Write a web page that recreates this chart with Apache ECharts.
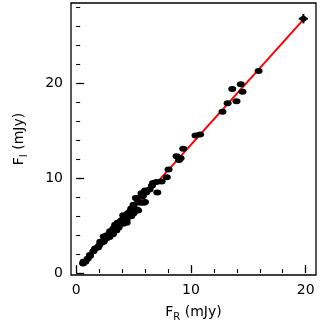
<!DOCTYPE html>
<html>
<head>
<meta charset="utf-8">
<script src="https://cdn.jsdelivr.net/npm/echarts@6/dist/echarts.min.js"></script>
<style>
html,body{margin:0;padding:0;background:#fff;}
#chart{width:326px;height:327px;}
</style>
</head>
<body>
<div id="chart"></div>
<script>
// Data
var fR = [0.6,0.64,0.8,1.0,1.2,1.2,1.5,1.65,1.9,2.0,2.1,2.2,2.4,2.4,2.5,2.67,2.7,2.8,2.9,2.96,3.0,3.1,3.2,3.25,3.3,3.4,3.4,3.5,3.5,3.6,3.7,3.8,3.9,3.97,4.0,4.1,4.1,4.2,4.3,4.4,4.4,4.5,4.6,4.7,4.8,4.8,4.9,5.0,5.0,5.2,5.3,5.3,5.4,5.4,5.6,5.7,5.8,5.9,6.0,6.0,6.1,6.4,6.6,6.7,7.0,7.07,7.45,7.9,8.05,8.75,8.96,9.1,9.33,10.4,10.8,12.75,13.2,13.97,13.6,14.35,14.5,15.9];
var fI = [1.0,1.2,1.2,1.5,1.8,1.9,2.3,2.6,2.7,2.9,3.3,3.2,3.3,3.85,3.6,4.0,3.7,4.0,3.8,4.4,4.2,4.4,4.1,4.7,4.6,4.9,5.1,4.5,5.1,5.3,4.8,5.2,5.5,5.3,5.6,5.2,6.1,5.8,6.0,5.6,5.3,6.3,6.1,6.5,6.0,6.8,6.6,7.2,6.3,7.9,7.9,6.7,7.5,6.6,7.4,8.4,8.1,7.4,8.7,7.5,8.5,8.8,9.2,9.5,9.6,8.5,9.64,10.1,10.9,12.3,11.9,12.1,13.1,14.5,14.6,17.0,17.9,18.1,19.4,19.9,19.1,21.3];
// point with error bars
var errX = [19.8], errY = [26.8], errDx = [0.4], errDy = [0.5];
// fitted line end points
var fitX = [0.6, 19.8];
var fitY = [0.86, 26.7];
// ticks
var xMajor = [0, 10, 20];
var xMinor = [2, 4, 6, 8, 12, 14, 16, 18];
var yMajor = [0, 10, 20];
var yMinor = [2, 4, 6, 8, 12, 14, 16, 18, 22, 24, 26, 28];

var XMIN = -0.45, XMAX = 20.9, YMIN = -0.2, YMAX = 28.45;
var FONT = 'DejaVu Sans';

var pts = fR.map(function (x, i) { return [x, fI[i]]; });
var errPts = errX.map(function (x, i) { return [x, errY[i], errDx[i], errDy[i]]; });
var fitPts = fitX.map(function (x, i) { return [x, fitY[i]]; });

function axisBase(extra) {
  var a = {
    type: 'value', gridIndex: 0,
    axisLine: { show: false },
    splitLine: { show: false },
    axisLabel: { show: false }
  };
  for (var k in extra) a[k] = extra[k];
  return a;
}

var nameRich = {
  a: { fontFamily: FONT, fontSize: 14, color: '#000' },
  s: { fontFamily: FONT, fontSize: 10, color: '#000', verticalAlign: 'bottom', padding: [0, 0, -3, 0] }
};

var chart = echarts.init(document.getElementById('chart'));
chart.setOption({
  animation: false,
  backgroundColor: '#fff',
  grid: {
    left: 71, right: 10, top: 3, bottom: 52,
    outerBoundsMode: 'none', containLabel: false,
    show: true, borderColor: '#000', borderWidth: 1.3, backgroundColor: 'transparent'
  },
  xAxis: [
    axisBase({
      min: XMIN, max: XMAX,
      name: '{a|F}{s|R}{a| (mJy)}',
      nameLocation: 'middle', nameGap: 30,
      nameTextStyle: { rich: nameRich },
      axisTick: { show: true, inside: true, length: 8, customValues: xMajor, lineStyle: { color: '#000', width: 1.3 } },
      axisLabel: { show: true, customValues: xMajor, margin: 8, fontFamily: FONT, fontSize: 14, color: '#000' }
    }),
    axisBase({
      min: XMIN, max: XMAX, position: 'bottom',
      axisTick: { show: true, inside: true, length: 4, customValues: xMinor, lineStyle: { color: '#000', width: 1.1 } }
    })
  ],
  yAxis: [
    axisBase({
      min: YMIN, max: YMAX,
      name: '{a|F}{s|I}{a| (mJy)}',
      nameLocation: 'middle', nameGap: 45, nameRotate: 90,
      nameTextStyle: { rich: nameRich },
      axisTick: { show: true, inside: true, length: 8, customValues: yMajor, lineStyle: { color: '#000', width: 1.3 } },
      axisLabel: { show: true, customValues: yMajor, margin: 8, fontFamily: FONT, fontSize: 14, color: '#000' }
    }),
    axisBase({
      min: YMIN, max: YMAX, position: 'left',
      axisTick: { show: true, inside: true, length: 4, customValues: yMinor, lineStyle: { color: '#000', width: 1.1 } }
    })
  ],
  series: [
    {
      type: 'line', xAxisIndex: 0, yAxisIndex: 0,
      data: fitPts, showSymbol: false, symbol: 'none',
      lineStyle: { color: '#ff0000', width: 2 }, z: 2
    },
    {
      type: 'scatter', xAxisIndex: 0, yAxisIndex: 0,
      data: pts, symbol: 'circle', symbolSize: [8, 6],
      itemStyle: { color: '#000', opacity: 1 }, z: 3
    },
    {
      type: 'custom', xAxisIndex: 0, yAxisIndex: 0, z: 4,
      data: errPts,
      renderItem: function (params, api) {
        var x = api.value(0), y = api.value(1), dx = api.value(2), dy = api.value(3);
        var c = api.coord([x, y]);
        var l = api.coord([x - dx, y]), r = api.coord([x + dx, y]);
        var t = api.coord([x, y + dy]), b = api.coord([x, y - dy]);
        return {
          type: 'group',
          children: [
            { type: 'line', shape: { x1: l[0], y1: l[1], x2: r[0], y2: r[1] }, style: { stroke: '#000', lineWidth: 2 } },
            { type: 'line', shape: { x1: t[0], y1: t[1], x2: b[0], y2: b[1] }, style: { stroke: '#000', lineWidth: 2 } },
            { type: 'ellipse', shape: { cx: c[0], cy: c[1], rx: 3.5, ry: 3 }, style: { fill: '#000' } }
          ]
        };
      }
    }
  ]
});
</script>
</body>
</html>
